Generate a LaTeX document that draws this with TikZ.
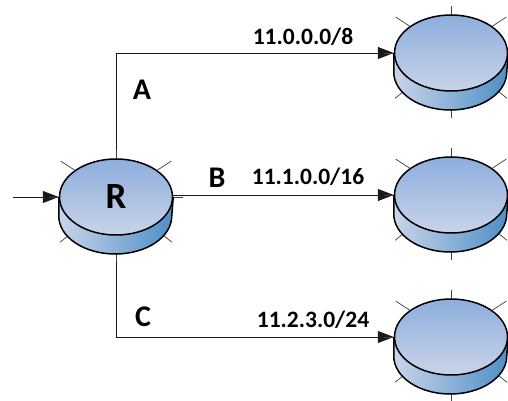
\documentclass[tikz,border=0pt]{standalone}
\usepackage{fontspec}
\setmainfont{Carlito}
\usepackage{xcolor}
\usepackage{tikz}
\usetikzlibrary{arrows, arrows.meta}
\usetikzlibrary{positioning}
\usetikzlibrary{calc}
\usetikzlibrary{shapes.geometric}
\pgfdeclarelayer{bg}
\pgfsetlayers{bg,main}
\definecolor{topBlue}{HTML}{8DAEDD}
\definecolor{lowBlue}{HTML}{C9D4E9}
\definecolor{bandLight}{HTML}{C8D5EA}
\definecolor{bandMid}{HTML}{A8C1E2}
\definecolor{bandDark}{HTML}{4E8EC6}

\begin{document}
\begin{tikzpicture}[x=1pt, y=1pt,
		router/.style={ellipse, draw=black, line width=1.5pt, minimum width=113pt, minimum height=76pt, inner sep=0pt, top color=topBlue, bottom color=lowBlue, font=\fontsize{37}{40}\selectfont\bfseries},
		link/.style={draw=black!90, line width=1pt, -{Triangle[length=16pt, width=12pt]}},
		portlabel/.style={font=\fontsize{30}{32}\selectfont\bfseries, inner sep=0pt},
		netlabel/.style={font=\fontsize{23.5}{26}\selectfont\bfseries, inner sep=0pt}]
			\useasboundingbox (0,0) rectangle (508,400);
			\node[router] (R) at (116,203) {R};
			\foreach \y[count = \iNet] in {347, 205, 63}
			{
				\node[router] (net\iNet) at (451,\y) {};
			}
			\coordinate (in) at (13,203);
			\begin{pgfonlayer}{bg}
				\draw[link] (in) -- (R.west);
				\draw[link] (R.north) |- (net1.west);
				\draw[link] (R.east |- net2.west) -- (net2.west);
				\draw[link] (R.south) |- (net3.west);
				\foreach \n in {R, net1, net2, net3}
				{
					\foreach \a/\r in {90/47, 33/66, 147/66, 0/67, 180/67, 219/72, 321/72, 270/65}
						\draw[black!75, line width=0.7pt] (\n.center) -- ++(\a:\r);
					\fill[left color=bandLight, middle color=bandMid, right color=bandDark] (\n.west) -- ++(0,-19) arc[start angle=180, end angle=360, x radius=56.5pt, y radius=38pt] -- (\n.east) -- cycle;
					\draw[line width=1.5pt] (\n.west) -- ++(0,-19) arc[start angle=180, end angle=360, x radius=56.5pt, y radius=38pt] -- (\n.east);
				}
			\end{pgfonlayer}
			\node[portlabel] (A) at (142,310) {A};
			\node[portlabel] (B) at (217,222) {B};
			\node[portlabel] (C) at (143,83) {C};
			\node[netlabel] (p1) at (303,363) {11.0.0.0/8};
			\node[netlabel] (p2) at (308,223) {11.1.0.0/16};
			\node[netlabel] (p3) at (313,80) {11.2.3.0/24};
		\end{tikzpicture}
\end{document}
